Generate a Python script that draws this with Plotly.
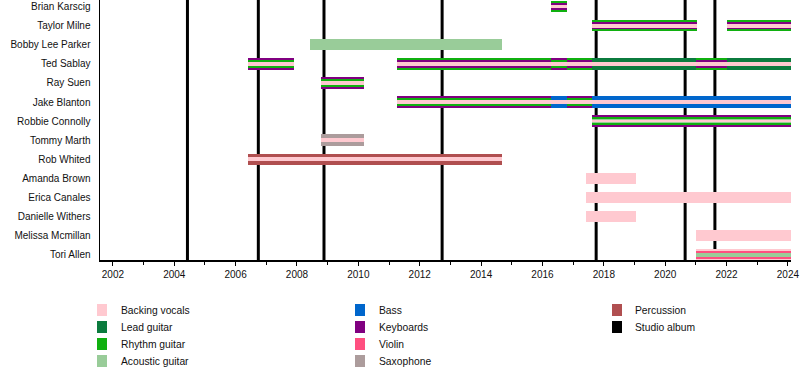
import plotly.graph_objects as go

# ---------------- data ----------------
members = ["Brian Karscig", "Taylor Milne", "Bobby Lee Parker", "Ted Sablay", "Ray Suen",
           "Jake Blanton", "Robbie Connolly", "Tommy Marth", "Rob Whited", "Amanda Brown",
           "Erica Canales", "Danielle Withers", "Melissa Mcmillan", "Tori Allen"]

roles = ["Backing vocals", "Lead guitar", "Rhythm guitar", "Acoustic guitar", "Bass",
         "Keyboards", "Violin", "Saxophone", "Percussion", "Studio album"]
role_colors = ["#ffc9d0", "#0b7b3e", "#10b010", "#99cc99", "#0066cc",
               "#800080", "#ff4f80", "#ac9c9c", "#b04f50", "#000000"]

# segments: member, start, end, role, layer (0 = outer/full, 1 = middle, 2 = inner, 3 = core)
seg_member = []
seg_start = []
seg_end = []
seg_role = []
seg_layer = []

def add(member, start, end, layered_roles):
    for layer, role in layered_roles:
        seg_member.append(member)
        seg_start.append(start)
        seg_end.append(end)
        seg_role.append(role)
        seg_layer.append(layer)

END = 2024.09
std = [(0, "Rhythm guitar"), (1, "Keyboards"), (2, "Backing vocals")]
kb = [(0, "Keyboards"), (1, "Rhythm guitar"), (2, "Backing vocals")]

add("Brian Karscig", 2016.27, 2016.79, std)
add("Taylor Milne", 2017.61, 2021.03, std)
add("Taylor Milne", 2022.0, END, std)
add("Bobby Lee Parker", 2008.42, 2014.68, [(0, "Acoustic guitar")])
add("Ted Sablay", 2006.40, 2007.90, kb)
add("Ted Sablay", 2011.26, 2016.27, std)
add("Ted Sablay", 2016.27, 2016.79, kb)
add("Ted Sablay", 2016.79, 2017.61, std)
add("Ted Sablay", 2017.61, 2021.0, [(0, "Lead guitar"), (2, "Backing vocals")])
add("Ted Sablay", 2021.0, 2022.0, std)
add("Ted Sablay", 2022.0, END, [(0, "Lead guitar"), (2, "Backing vocals")])
add("Ray Suen", 2008.78, 2010.18, kb)
add("Jake Blanton", 2011.26, 2016.27, kb)
add("Jake Blanton", 2016.27, 2016.79, [(0, "Bass"), (2, "Backing vocals")])
add("Jake Blanton", 2016.79, 2017.61, kb)
add("Jake Blanton", 2017.61, END, [(0, "Bass"), (2, "Backing vocals")])
add("Robbie Connolly", 2017.61, END, [(0, "Keyboards"), (1, "Rhythm guitar"),
                                      (2, "Acoustic guitar"), (3, "Backing vocals")])
add("Tommy Marth", 2008.78, 2010.18, [(0, "Saxophone"), (2, "Backing vocals")])
add("Rob Whited", 2006.40, 2014.68, [(0, "Percussion"), (2, "Backing vocals")])
add("Amanda Brown", 2017.42, 2019.05, [(0, "Backing vocals")])
add("Erica Canales", 2017.42, END, [(0, "Backing vocals")])
add("Danielle Withers", 2017.42, 2019.05, [(0, "Backing vocals")])
add("Melissa Mcmillan", 2021.0, END, [(0, "Backing vocals")])
add("Tori Allen", 2021.0, END, [(0, "Backing vocals"), (1, "Violin"), (2, "Acoustic guitar")])

album_years = [2004.43, 2006.74, 2008.88, 2012.73, 2017.75, 2020.65, 2021.62]

x_tick_years = list(range(2002, 2025, 2))
layer_widths = [0.6, 0.4, 0.2, 0.08]

# ---------------- figure ----------------
FONT = "Liberation Sans, Arial, sans-serif"
TXT = "#111111"
color_of = dict(zip(roles, role_colors))
row_of = {m: i for i, m in enumerate(members)}

fig = go.Figure()
for layer in range(len(layer_widths)):
    for role in roles:
        idx = [i for i in range(len(seg_role)) if seg_layer[i] == layer and seg_role[i] == role]
        if not idx:
            continue
        fig.add_trace(go.Bar(
            orientation="h",
            y=[row_of[seg_member[i]] for i in idx],
            x=[seg_end[i] - seg_start[i] for i in idx],
            base=[seg_start[i] for i in idx],
            width=layer_widths[layer],
            marker=dict(color=color_of[role], line=dict(width=0)),
            showlegend=False,
            hoverinfo="skip",
        ))

for yr in album_years:
    fig.add_shape(type="line", xref="x", yref="paper", x0=yr, x1=yr, y0=0, y1=1,
                  line=dict(color="black", width=3), layer="below")

# manual legend (3 columns)
W, H = 800, 370
ml, mr, mt, mb = 100, 9, 0, 110
pw, ph = W - ml - mr, H - mt - mb

def px2paper(px, py):
    return (px - ml) / pw, (H - mb - py) / ph

legend_cols = [[0, 1, 2, 3], [4, 5, 6, 7], [8, 9]]
col_swatch_x = [97, 355, 612]
col_text_x = [119, 377, 633]
row_y = [310, 327, 344, 361]
for c, items in enumerate(legend_cols):
    for r, ri in enumerate(items):
        x0, y0 = px2paper(col_swatch_x[c], row_y[r] - 6)
        x1, y1 = px2paper(col_swatch_x[c] + 10, row_y[r] + 6)
        fig.add_shape(type="rect", xref="paper", yref="paper", x0=x0, x1=x1, y0=y0, y1=y1,
                      fillcolor=role_colors[ri], line=dict(width=0))
        tx, ty = px2paper(col_text_x[c], row_y[r])
        fig.add_annotation(xref="paper", yref="paper", x=tx, y=ty, text=roles[ri],
                           showarrow=False, xanchor="left", yanchor="middle",
                           font=dict(family=FONT, size=10.3, color=TXT))

fig.update_layout(
    width=W, height=H,
    margin=dict(l=ml, r=mr, t=mt, b=mb, pad=0, autoexpand=False),
    barmode="overlay",
    bargap=0,
    plot_bgcolor="white",
    paper_bgcolor="white",
    font=dict(family=FONT, size=10, color=TXT),
    showlegend=False,
)
fig.update_xaxes(
    automargin=False,
    range=[2001.58, 2024.1],
    tickvals=x_tick_years,
    ticktext=[str(y) for y in x_tick_years],
    ticks="outside", ticklen=4, tickcolor="black", tickwidth=1,
    minor=dict(dtick=1, tick0=2001, ticks="outside", ticklen=3, tickcolor="black", tickwidth=1),
    showline=True, linecolor="black", linewidth=1.5,
    showgrid=False, zeroline=False,
    tickfont=dict(family=FONT, size=10, color=TXT),
)
fig.update_yaxes(
    automargin=False,
    range=[13.27, -0.34],
    tickvals=list(range(len(members))),
    ticktext=members,
    ticks="", ticklabelstandoff=6,
    showline=True, linecolor="black", linewidth=1.5,
    showgrid=False, zeroline=False,
    tickfont=dict(family=FONT, size=10, color=TXT),
)

fig.write_html("out.html",
               config={"displayModeBar": False, "staticPlot": True},
               post_script="document.body.style.margin='0';document.body.style.padding='0';")
